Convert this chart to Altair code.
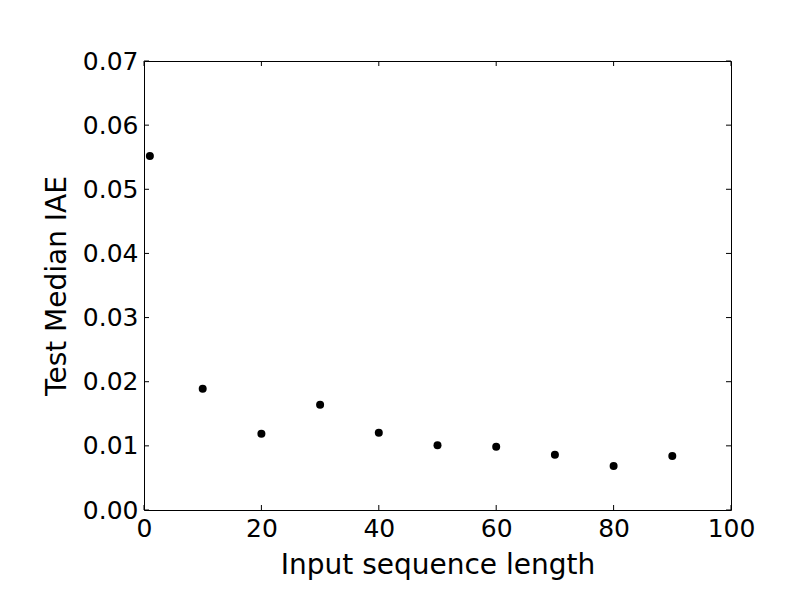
import altair as alt
import pandas as pd

seq_len = [1, 10, 20, 30, 40, 50, 60, 70, 80, 90]
median_iae = [0.0552, 0.0189, 0.0119, 0.0164, 0.01205, 0.0101, 0.00987, 0.00862, 0.00686, 0.00842]
x_ticks = [0, 20, 40, 60, 80, 100]
y_ticks = [0.0, 0.01, 0.02, 0.03, 0.04, 0.05, 0.06, 0.07]

W, H = 587, 449
TL = 5

df = pd.DataFrame({"x": seq_len, "y": median_iae})
xt = pd.DataFrame({"x": x_ticks})
yt = pd.DataFrame({"y": y_ticks})

xscale = alt.Scale(domain=[0, 100], nice=False, zero=False)
yscale = alt.Scale(domain=[0, 0.07], nice=False, zero=False)

xaxis = alt.Axis(
    values=x_ticks, format="d", title="Input sequence length",
    labelPadding=6, titleX=W / 2, titleY=63, titleBaseline="alphabetic",
    titleAlign="center")
yaxis = alt.Axis(
    values=y_ticks, format=".2f", title="Test Median IAE",
    labelPadding=6, titleX=-79, titleY=H / 2, titleAngle=-90,
    titleBaseline="alphabetic", titleAlign="center")

points = alt.Chart(df).mark_circle(size=64, color="black", opacity=1).encode(
    x=alt.X("x:Q", scale=xscale, axis=xaxis),
    y=alt.Y("y:Q", scale=yscale, axis=yaxis),
)

def xrule(y1, y2):
    return alt.Chart(xt).mark_rule(color="black", strokeWidth=1).encode(
        x=alt.X("x:Q", scale=xscale, axis=xaxis),
        y=alt.value(y1), y2=alt.value(y2))

def yrule(x1, x2):
    return alt.Chart(yt).mark_rule(color="black", strokeWidth=1).encode(
        y=alt.Y("y:Q", scale=yscale, axis=yaxis),
        x=alt.value(x1), x2=alt.value(x2))

chart = alt.layer(
    points, xrule(H, H - TL), xrule(0, TL), yrule(0, TL), yrule(W, W - TL)
).properties(
    width=W, height=H,
    autosize=alt.AutoSizeParams(type="none"),
    padding={"left": 136, "top": 53, "right": 70, "bottom": 80},
).configure(
    background="white"
).configure_view(
    stroke="black", strokeWidth=1
).configure_axis(
    domain=False, ticks=False, grid=False,
    labelFont="DejaVu Sans", labelFontSize=25, labelColor="black",
    titleFont="DejaVu Sans", titleFontSize=28, titleFontWeight="normal",
    titleColor="black", labelFlush=False, labelOverlap=False,
)

chart.save("out.html", embed_options={"renderer": "svg", "actions": False})
